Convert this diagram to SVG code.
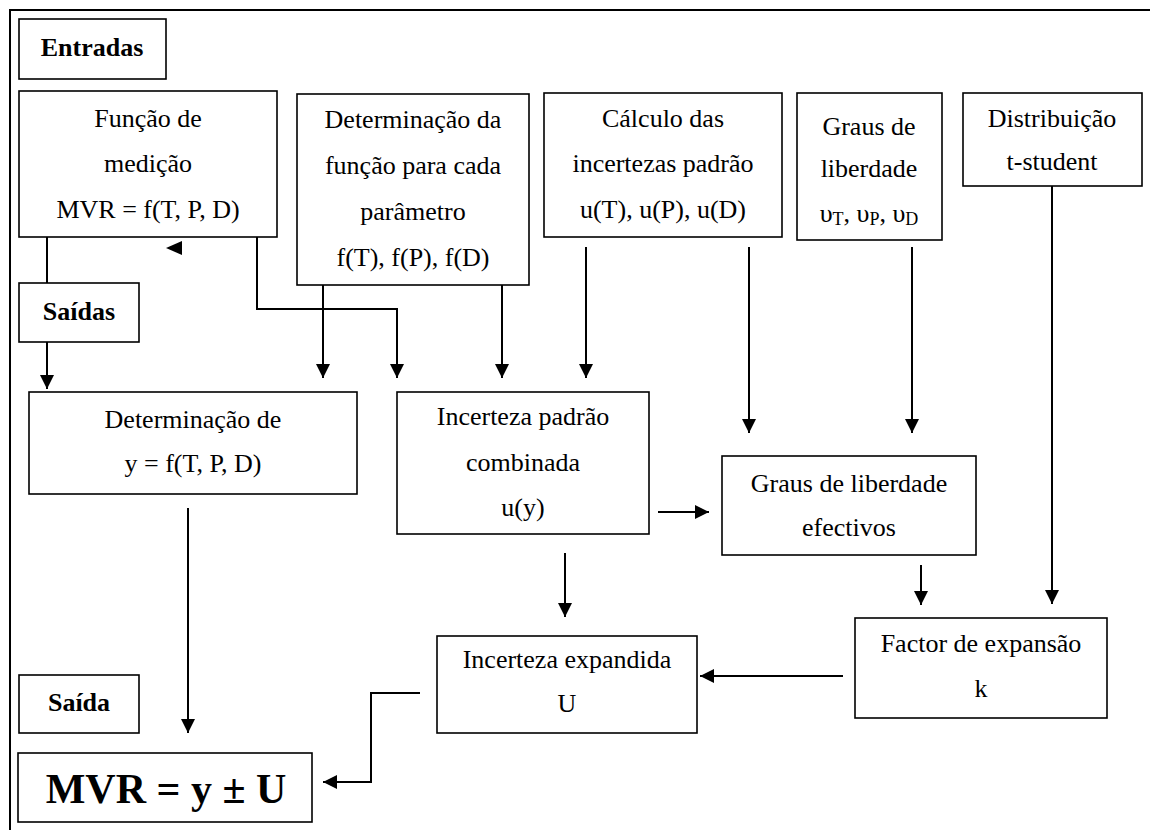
<svg xmlns="http://www.w3.org/2000/svg" width="1150" height="830" viewBox="0 0 1150 830">
<style>
.box{fill:#fff;stroke:#000;stroke-width:1.6}
text{font-family:'Liberation Serif','Times New Roman','DejaVu Serif',serif;font-size:26px;fill:#000;text-anchor:middle}
.b{font-weight:bold}
.big{font-size:42px}
.sub{font-size:18px}
.ln{fill:none;stroke:#000;stroke-width:2}
.ar{fill:none;stroke:#000;stroke-width:2;marker-end:url(#ah)}
</style>
<defs>
<marker id="ah" markerUnits="userSpaceOnUse" markerWidth="15" markerHeight="14" refX="14" refY="7" orient="auto">
<path d="M0,0 L14,7 L0,14 z" fill="#000"/>
</marker>
</defs>
<rect x="0" y="0" width="1150" height="830" fill="#fff"/>
<g id="frame"><path class="ln" d="M10,830 V10 H1150"/></g>

<g id="entradas"><rect class="box" x="19" y="19" width="147" height="60"/><text class="b" x="92" y="56">Entradas</text></g>
<g id="funcao"><rect class="box" x="19" y="91" width="258" height="146"/>
<text x="148" y="127">Função de</text><text x="148" y="172">medição</text><text x="148" y="218">MVR = f(T, P, D)</text></g>
<g id="determinacao-funcao"><rect class="box" x="297" y="94" width="232" height="191"/>
<text x="413" y="128">Determinação da</text><text x="413" y="174">função para cada</text><text x="413" y="220">parâmetro</text><text x="413" y="266">f(T), f(P), f(D)</text></g>
<g id="calculo"><rect class="box" x="544" y="93" width="238" height="144"/>
<text x="663" y="127">Cálculo das</text><text x="663" y="172">incertezas padrão</text><text x="663" y="218">u(T), u(P), u(D)</text></g>
<g id="graus"><rect class="box" x="797" y="93" width="145" height="147"/>
<text x="869" y="135">Graus de</text><text x="869" y="177">liberdade</text>
<text x="869" y="222"><tspan>υ</tspan><tspan class="sub" dy="3">T</tspan><tspan dy="-3">, υ</tspan><tspan class="sub" dy="3">P</tspan><tspan dy="-3">, υ</tspan><tspan class="sub" dy="3">D</tspan></text></g>
<g id="distribuicao"><rect class="box" x="963" y="93" width="179" height="93"/>
<text x="1052" y="127">Distribuição</text><text x="1052" y="170">t-student</text></g>
<g id="saidas"><rect class="box" x="19" y="283" width="120" height="59"/><text class="b" x="79" y="320">Saídas</text></g>
<g id="determinacao-y"><rect class="box" x="29" y="392" width="328" height="102"/>
<text x="193" y="428">Determinação de</text><text x="193" y="472">y = f(T, P, D)</text></g>
<g id="incerteza-combinada"><rect class="box" x="397" y="392" width="252" height="142"/>
<text x="523" y="425">Incerteza padrão</text><text x="523" y="471">combinada</text><text x="523" y="516">u(y)</text></g>
<g id="graus-efectivos"><rect class="box" x="722" y="456" width="254" height="99"/>
<text x="849" y="492">Graus de liberdade</text><text x="849" y="536">efectivos</text></g>
<g id="factor"><rect class="box" x="855" y="618" width="252" height="100"/>
<text x="981" y="652">Factor de expansão</text><text x="981" y="697">k</text></g>
<g id="incerteza-expandida"><rect class="box" x="437" y="636" width="260" height="97"/>
<text x="567" y="668">Incerteza expandida</text><text x="567" y="712">U</text></g>
<g id="saida"><rect class="box" x="19" y="675" width="120" height="58"/><text class="b" x="79" y="711">Saída</text></g>
<g id="resultado"><rect class="box" x="18" y="753" width="294" height="69"/><text class="b big" x="166" y="803">MVR = y ± U</text></g>

<g id="connectors">
<path class="ln" d="M47,237 V283"/>
<path class="ar" d="M47,342 V389"/>
<polygon points="166,248 182,241 182,255" fill="#000"/>
<path class="ar" d="M257,237 V309 H397 V378"/>
<path class="ar" d="M323,285 V378"/>
<path class="ar" d="M502,285 V378"/>
<path class="ar" d="M586,247 V378"/>
<path class="ar" d="M749,247 V433"/>
<path class="ar" d="M912,247 V433"/>
<path class="ar" d="M1052,186 V604"/>
<path class="ar" d="M658,512 H709"/>
<path class="ar" d="M921,565 V605"/>
<path class="ar" d="M565,553 V617"/>
<path class="ar" d="M188,508 V733"/>
<path class="ar" d="M843,676 H700"/>
<path class="ar" d="M420,693 H371 V782 H323"/>
</g>
</svg>
